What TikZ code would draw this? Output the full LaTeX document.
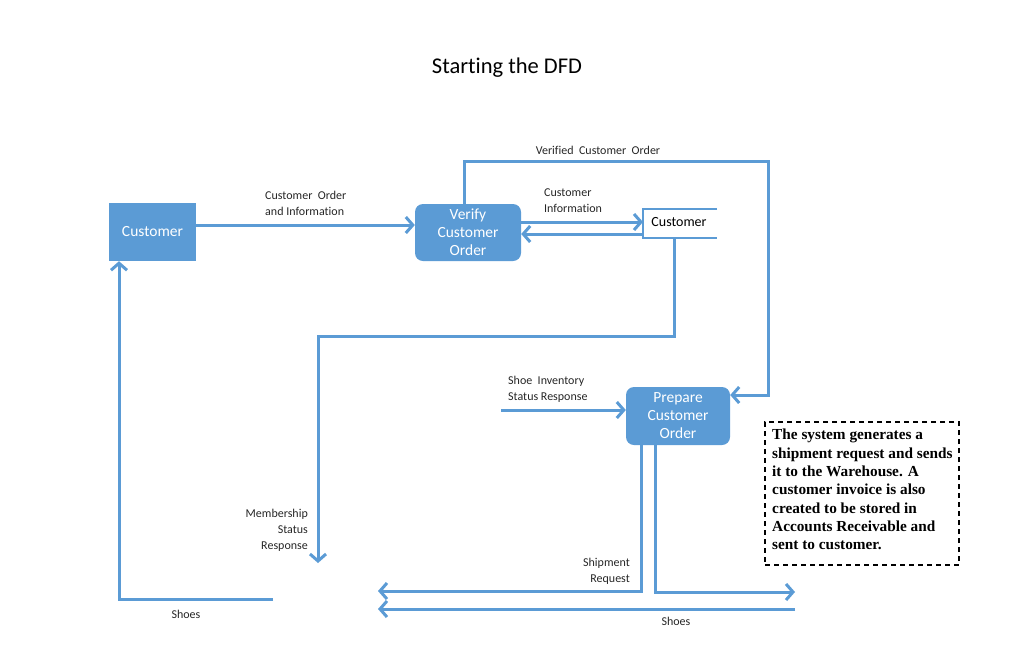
\documentclass[tikz,border=0pt]{standalone}
\usepackage{fontspec}
\setmainfont[Ligatures=NoCommon]{Carlito}
\newfontfamily\notefont{Liberation Serif}
\usetikzlibrary{arrows.meta}
\definecolor{dfdblue}{HTML}{5B9BD5}
\begin{document}
\begin{tikzpicture}[x=1pt,y=-1pt,
  flow/.style={draw=dfdblue,line width=3pt,-{Straight Barb[length=7pt,width=16pt,line width=3pt]}},
  extent/.style={fill=dfdblue,draw=none,text=white,font=\fontsize{15.5}{18}\selectfont,inner sep=0pt},
  process/.style={fill=dfdblue,draw=none,rounded corners=8pt,text=white,align=center,font=\fontsize{15.5}{18}\selectfont,inner sep=0pt},
  lbl/.style={font=\fontsize{12}{16}\selectfont,text=black!85,inner sep=0pt}
]
\useasboundingbox (0,0) rectangle (1024,646);
\node (title) at (507,68) {\fontsize{22.5}{26}\selectfont Starting the DFD};

% entities and processes
\node[extent,minimum width=87pt,minimum height=58pt] (cust) at (152.5,232) {Customer};
\node[process,minimum width=106pt,minimum height=57pt] (verify) at (468,232.5) {Verify\\Customer\\Order};
\node[process,minimum width=104pt,minimum height=58pt] (prep) at (678,416) {Prepare\\Customer\\Order};

% data store
\node[inner sep=0pt,minimum width=74pt,minimum height=29pt,font=\fontsize{14}{16}\selectfont] (store) at (680,222.5) {\hspace*{-2pt}Customer};
\draw[dfdblue,line width=1.3pt] (717,209) -- (643,209) -- (643,238) -- (717,238);

% text box
\node[draw=black,dashed,line width=1.2pt,dash pattern=on 5pt off 4pt,minimum width=194pt,minimum height=143pt,inner sep=0pt] (note) at (862,493.5) {};
\node[anchor=north west,inner sep=0pt,align=left,font=\notefont\bfseries\fontsize{15.3}{18.3}\selectfont] (notetext) at (772,429)
{The system generates a\\shipment request and sends\\it to the Warehouse. A\\customer invoice is also\\created to be stored in\\Accounts Receivable and\\sent to customer.};

% coordinates
\coordinate (c1) at (464,161);
\coordinate (c2) at (768,161);
\coordinate (c3) at (674,336);
\coordinate (c4) at (318,336);
\coordinate (memb) at (318,563);
\coordinate (invsrc) at (501,410);
\coordinate (s1) at (641,591);
\coordinate (s2) at (378,591);
\coordinate (t1) at (655,592);
\coordinate (t2) at (795,592);
\coordinate (sh1) at (795,609);
\coordinate (sh2) at (378,609);
\coordinate (shl1) at (273,599);
\coordinate (shl2) at (119,599);

% flows
\draw[flow] (cust.east |- 0,225) -- (verify.west |- 0,225);
\draw[flow] (verify.east |- 0,222) -- (643,222);
\draw[flow] (643,234) -- (verify.east |- 0,234);
\draw[flow] (verify.north -| c1) -- (c1) -- (c2) -- (c2 |- 0,395) -- (prep.east |- 0,395);
\draw[flow] (store.south -| c3) -- (c3) -- (c4) -- (memb);
\draw[flow] (invsrc) -- (prep.west |- invsrc);
\draw[flow] (prep.south -| s1) -- (s1) -- (s2);
\draw[flow] (prep.south -| t1) -- (t1) -- (t2);
\draw[flow] (sh1) -- (sh2);
\draw[flow] (shl1) -- (shl2) -- (shl2 |- cust.south);

% labels
\node[lbl,anchor=west,align=left] (l1) at (265,203) {Customer~ Order\\and Information};
\node[lbl,anchor=west,align=left] (l2) at (544,201) {Customer\\Information};
\node[lbl,anchor=center] (l3) at (598,150) {Verified~ Customer~ Order};
\node[lbl,anchor=east,align=right] (l4) at (308,530) {Membership\\Status~\\Response};
\node[lbl,anchor=west,align=left] (l5) at (508,389) {Shoe~ Inventory\\Status Response};
\node[lbl,anchor=east,align=right] (l6) at (630,571) {Shipment\\Request};
\node[lbl] (l7) at (676,621) {Shoes};
\node[lbl] (l8) at (186,614) {Shoes};
\end{tikzpicture}
\end{document}
